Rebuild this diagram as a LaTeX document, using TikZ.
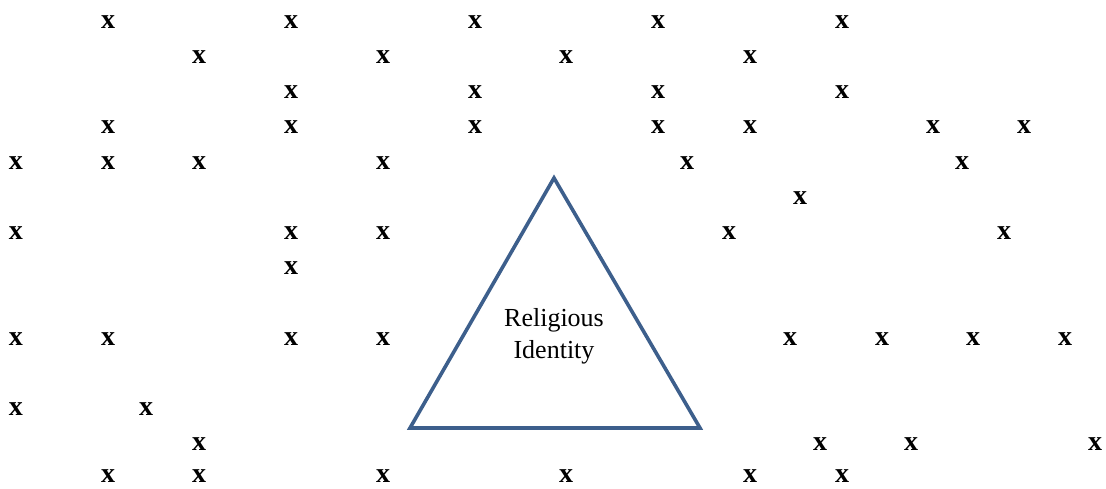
\documentclass[tikz,border=0pt]{standalone}
\usepackage{fontspec}
\setmainfont{Liberation Serif}
\usepackage{tikz}
\usepackage{xcolor}
\usetikzlibrary{positioning, calc}
\definecolor{cEdge}{HTML}{3D5F8C}
\tikzset{
  cross/.style={font=\fontsize{28}{28}\selectfont\bfseries, inner sep=0pt, text=black},
  idlabel/.style={font=\fontsize{26}{32}\selectfont, align=center, inner sep=0pt},
}

\begin{document}
\begin{tikzpicture}[x=1pt, y=-1pt]
  \useasboundingbox (0,0) rectangle (1106,488);
  % scattered marks, one entry per x
  \foreach \px/\py [count=\k] in {
      108/22, 291/22, 475/22, 658/22, 842/22,
      199/57, 383/57, 566/57, 750/57,
      291/92, 475/92, 658/92, 842/92,
      108/127, 291/127, 475/127, 658/127, 750/127, 933/127, 1024/127,
      16/163, 108/163, 199/163, 383/163, 687/163, 962/163,
      800/198,
      16/233, 291/233, 383/233, 729/233, 1004/233,
      291/268,
      16/339, 108/339, 291/339, 383/339, 790/339, 882/339, 973/339, 1065/339,
      16/409, 146/409,
      199/444, 820/444, 911/444, 1095/444,
      108/476, 199/476, 383/476, 566/476, 750/476, 842/476}
    \node[cross] (x\k) at (\px,\py) {x};
  % central triangle
  \coordinate (apex) at (554,178);
  \coordinate (baseL) at (410,428);
  \coordinate (baseR) at (700,428);
  \draw[cEdge, line width=3.6pt, line join=miter] (apex) -- (baseR) -- (baseL) -- cycle;
  \node[idlabel] (relid) at (554,336) {Religious\\Identity};
\end{tikzpicture}
\end{document}
